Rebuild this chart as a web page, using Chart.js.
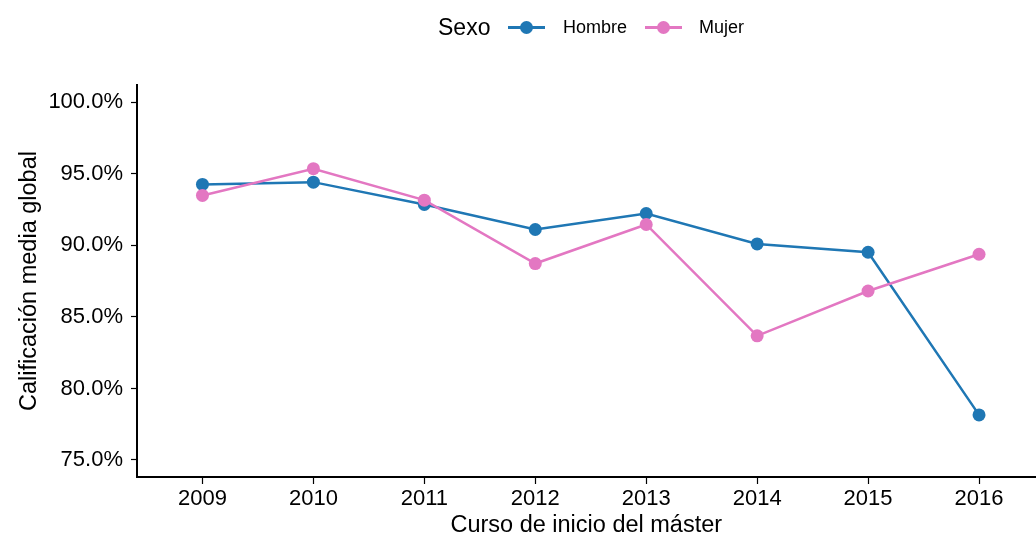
<!DOCTYPE html>
<html>
<head>
<meta charset="utf-8">
<script src="https://cdn.jsdelivr.net/npm/chart.js@4"></script>
<style>
    html, body { margin: 0; padding: 0; background: #fff; overflow: hidden; }
    #wrap { position: relative; width: 1036px; height: 538px; overflow: hidden; }
    #chart { display: block; }
    #legend { position: absolute; left: 0; top: 0; width: 1036px; height: 54px; font-family: "Liberation Sans", Arial, sans-serif; color: #000; }
    #legend .title { position: absolute; left: 438px; top: 14px; font-size: 23px; }
    #legend .key { position: absolute; top: 26px; width: 37px; height: 2.5px; }
    #legend .dot { position: absolute; left: 12px; top: -5px; width: 13px; height: 13px; border-radius: 50%; }
    #legend .lab { position: absolute; top: 17px; font-size: 18px; }
</style>
</head>
<body>
<div id="wrap">
    <canvas id="chart" width="1042" height="538"></canvas>
    <div id="legend"></div>
</div>
<script>
// Data
const years = [2009, 2010, 2011, 2012, 2013, 2014, 2015, 2016];
const hombre = [94.26, 94.42, 92.86, 91.11, 92.23, 90.10, 89.52, 78.15];
const mujer = [93.49, 95.36, 93.16, 88.73, 91.46, 83.68, 86.81, 89.38];
const yTicks = [75, 80, 85, 90, 95, 100];

const FONT = '"Liberation Sans", Arial, sans-serif';
const BLUE = '#1f77b4';
const PINK = '#e377c2';

const toPoints = (vals) => years.map((y, i) => ({ x: y, y: vals[i] }));

const series = [
    { label: 'Hombre', data: hombre, color: BLUE, order: 1 },
    { label: 'Mujer', data: mujer, color: PINK, order: 0 }
];

new Chart(document.getElementById('chart'), {
    type: 'line',
    data: {
        datasets: series.map(s => ({
            label: s.label,
            data: toPoints(s.data),
            borderColor: s.color,
            backgroundColor: s.color,
            borderWidth: 2.5,
            pointRadius: 6.5,
            pointHoverRadius: 6.5,
            pointBorderWidth: 0,
            tension: 0,
            order: s.order
        }))
    },
    options: {
        responsive: false,
        animation: false,
        events: [],
        layout: { padding: { top: 85, left: 0, right: 0, bottom: 0 } },
        plugins: { legend: { display: false }, tooltip: { enabled: false } },
        scales: {
            x: {
                type: 'linear',
                min: 2008.41,
                max: 2016.509,
                afterBuildTicks: (scale) => { scale.ticks = years.map(v => ({ value: v })); },
                afterFit: (scale) => { scale.height = 61; },
                grid: { drawOnChartArea: false, drawTicks: true, tickLength: 7, color: '#000', tickWidth: 1.2 },
                border: { display: true, color: '#000', width: 2 },
                ticks: {
                    padding: 2,
                    color: '#000',
                    font: { family: FONT, size: 22 },
                    callback: (v) => String(v),
                    maxRotation: 0
                },
                title: {
                    display: true,
                    text: 'Curso de inicio del máster',
                    color: '#000',
                    font: { family: FONT, size: 23.5, lineHeight: 1.1 },
                    padding: 0
                }
            },
            y: {
                min: 73.81,
                max: 101.21,
                afterBuildTicks: (scale) => { scale.ticks = yTicks.map(v => ({ value: v })); },
                afterFit: (scale) => { scale.width = 137; },
                grid: { drawOnChartArea: false, drawTicks: true, tickLength: 6, color: '#000', tickWidth: 1.2 },
                border: { display: true, color: '#000', width: 2 },
                ticks: {
                    padding: 8,
                    color: '#000',
                    font: { family: FONT, size: 22 },
                    callback: (v) => v.toFixed(1) + '%'
                },
                title: {
                    display: true,
                    text: 'Calificación media global',
                    color: '#000',
                    font: { family: FONT, size: 23.5 },
                    padding: { top: 15, bottom: 0 }
                }
            }
        }
    }
});

// HTML legend (ggplot style: line with a dot, title inline)
const legend = document.getElementById('legend');
legend.innerHTML = '<span class="title">Sexo</span>';
const keyLeft = [508, 645];
const labLeft = [563, 699];
series.forEach((s, i) => {
    const key = document.createElement('div');
    key.className = 'key';
    key.style.left = keyLeft[i] + 'px';
    key.style.background = s.color;
    key.innerHTML = `<div class="dot" style="background:${s.color}"></div>`;
    legend.appendChild(key);
    const lab = document.createElement('span');
    lab.className = 'lab';
    lab.style.left = labLeft[i] + 'px';
    lab.textContent = s.label;
    legend.appendChild(lab);
});
</script>
</body>
</html>
